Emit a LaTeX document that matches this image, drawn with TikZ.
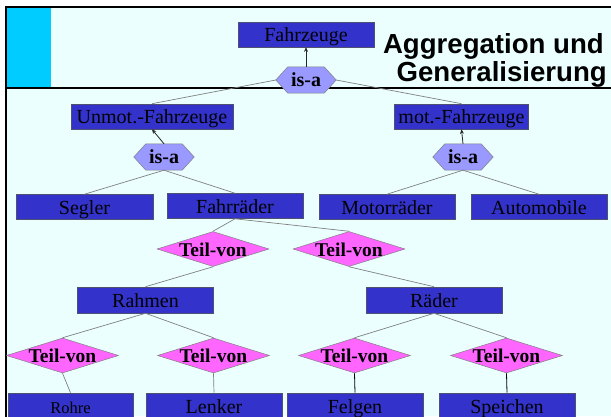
\documentclass[tikz,border=0pt]{standalone}
\usepackage{fontspec}
\setmainfont{Liberation Serif}
\newfontfamily\titlefont{Liberation Sans}
\usetikzlibrary{shapes.geometric,arrows.meta,calc}
\definecolor{bgc}{HTML}{EBFFFF}
\definecolor{bandc}{HTML}{00CCFF}
\definecolor{boxc}{HTML}{3333CC}
\definecolor{hexc}{HTML}{9999FF}
\definecolor{diac}{HTML}{FF66FF}
\definecolor{linec}{HTML}{808080}
\definecolor{edgec}{HTML}{505070}
\tikzset{
  ent/.style={draw=edgec, line width=0.6pt, fill=boxc, minimum width=136pt,
    minimum height=25pt, inner sep=0pt, text height=14pt, text depth=0pt,
    font=\fontsize{20}{20}\selectfont, text=black},
  rel/.style={diamond, draw=linec, line width=0.5pt, fill=diac,
    minimum width=112pt, minimum height=35pt, inner sep=0pt},
  reltext/.style={inner sep=0pt, text height=14pt, text depth=0pt,
    font=\bfseries\fontsize{19.5}{20}\selectfont, text=black},
  hexbox/.style={rectangle, minimum width=36pt, minimum height=26pt, inner sep=0pt},
  hexline/.style={fill=hexc, draw=linec, line width=0.5pt},
  hextext/.style={inner sep=0pt, text height=13pt, text depth=0pt,
    font=\bfseries\fontsize{20}{20}\selectfont, text=black},
  conn/.style={draw=linec, line width=0.7pt},
  blk/.style={draw=black, line width=0.8pt},
  arr/.style={draw=black!85, line width=0.8pt, -{Stealth[length=4.5pt,width=4pt]}},
  frame/.style={draw=black, line width=2pt},
  ttl/.style={inner sep=0pt, font=\titlefont\bfseries\fontsize{27.6}{28}\selectfont, text=black}
}
\newcommand\isanode[3]{%
  \node[hexbox] (#1) at (#2,#3) {};
  \coordinate (#1-l) at ($(#1.west)+(-12,0)$);
  \coordinate (#1-r) at ($(#1.east)+(12,0)$);
  \path[hexline] (#1.north west) -- (#1.north east) -- (#1-r) -- (#1.south east)
     -- (#1.south west) -- (#1-l) -- cycle;
  \node[hextext] at (#1) {is-a};
}
\newcommand\relnode[3]{%
  \node[rel] (#1) at (#2,#3) {};
  \node[reltext] at (#1) {Teil-von};
}
\begin{document}
\begin{tikzpicture}[x=1pt,y=-1pt]
\useasboundingbox (0,0) rectangle (611,416);
\clip (0,0) rectangle (611,416);
% background and frame
\fill[white] (0,0) rectangle (611,416);
\fill[bgc] (6,7) rectangle (611,416);
\fill[bandc] (7,8) rectangle (51,87);
\draw[frame] (612,7) -- (6,7) -- (6,417);
\draw[frame] (6,88) -- (612,88);
% title
\node[ttl, anchor=base east] (t1title) at (604,53) {Aggregation und};
\node[ttl, anchor=base east] (t2title) at (607,81) {Generalisierung};
% entities
\node[ent] (F) at (306,34.5) {Fahrzeuge};
\node[ent, minimum width=162pt] (U) at (152,116.5) {Unmot.-Fahrzeuge};
\node[ent, minimum width=134pt] (M) at (461.5,116.5) {mot.-Fahrzeuge};
\node[ent, minimum width=137pt] (S) at (84.5,207) {Segler};
\node[ent] (Fr) at (235,206) {Fahrräder};
\node[ent] (Mo) at (387,207) {Motorräder};
\node[ent] (A) at (539,207) {Automobile};
\node[ent, minimum height=26pt] (R) at (145.5,300) {Rahmen};
\node[ent, minimum height=26pt] (Ra) at (434,300) {Räder};
\node[ent, minimum width=125pt, minimum height=26pt, font=\fontsize{16.5}{17}\selectfont] (Ro) at (70.5,406) {Rohre};
\node[ent, minimum height=26pt] (Le) at (214,406) {Lenker};
\node[ent, minimum height=26pt] (Fe) at (355,406) {Felgen};
\node[ent, minimum height=26pt] (Sp) at (507,406) {Speichen};
% relationships
\isanode{I0}{306}{80}
\isanode{I1}{164}{157}
\isanode{I2}{463}{157}
\relnode{T1}{213}{249}
\relnode{T2}{349}{249}
\relnode{T3}{62.5}{355.5}
\relnode{T4}{213.5}{355.5}
\relnode{T5}{354.5}{355.5}
\relnode{T6}{506.5}{355.5}
% connectors
\draw[arr] (I0.north) -- (F.south);
\draw[arr] (I1.north) -- (U.south);
\draw[arr] (I2.north) -- (M.south);
\draw[conn] (I0-l) -- (U.north);
\draw[conn] (I0-r) -- (M.north);
\draw[conn] (I1.south) -- (S.north);
\draw[conn] (I1.south) -- (Fr.north);
\draw[conn] (I2.south) -- (Mo.north);
\draw[conn] (I2.south) -- (A.north);
\draw[conn] (Fr.south) -- (T1.north);
\draw[conn] (Fr.south) -- (T2.north);
\draw[conn] (T1.south) -- (R.north);
\draw[conn] (T2.south) -- (Ra.north);
\draw[conn] (R.south) -- (T3.north);
\draw[conn] (R.south) -- (T4.north);
\draw[conn] (Ra.south) -- (T5.north);
\draw[conn] (Ra.south) -- (T6.north);
\draw[conn] (T3.south) -- (Ro.north);
\draw[conn] (T4.south) -- (Le.north);
\draw[blk] (T5.south) -- (Fe.north);
\draw[blk] (T6.south) -- (Sp.north);
\end{tikzpicture}
\end{document}
